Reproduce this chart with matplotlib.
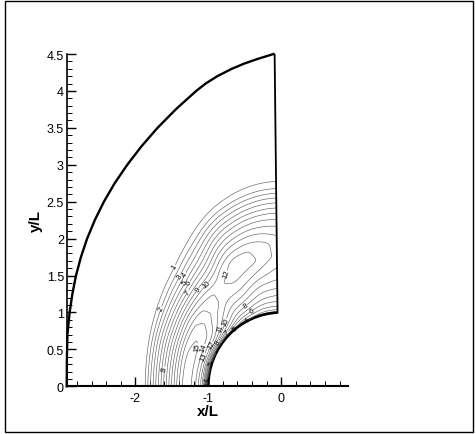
import numpy as np
import matplotlib
matplotlib.use("Agg")
import matplotlib.pyplot as plt
from matplotlib.patches import Arc, Rectangle
from matplotlib.ticker import MultipleLocator, FormatStrFormatter

plt.rcParams['font.family'] = ['Liberation Sans', 'DejaVu Sans']
plt.rcParams['axes.unicode_minus'] = False

# Outer boundary of the domain
outer_y = [0.0, 0.4, 0.7, 1.0, 1.25, 1.5, 1.75, 2.0, 2.25, 2.5, 2.75, 3.0,
           3.25, 3.5, 3.75, 4.0, 4.1, 4.2, 4.3, 4.37, 4.43, 4.5]
outer_x = [-2.94, -2.937, -2.93, -2.90, -2.8625, -2.8125, -2.745, -2.66, -2.555,
           -2.43, -2.2825, -2.11, -1.915, -1.695, -1.445, -1.165, -1.035, -0.875,
           -0.675, -0.507, -0.333, -0.105]

# Body: vertical wall + quarter circle of radius 1
wall_x = [-0.09, -0.05]
wall_y = [4.5, 1.0]
body_r = 1.0

# Contour region: outer edge reaches x=-1.9 on the axis and y=2.9 at the wall
extent_x = 1.9
extent_y = 2.9

# field values: rows = angle from the -x axis (deg), columns = normalised
# distance from the body (0) to the edge of the contour region (1)
phi_nodes = [0, 20, 35, 47, 57, 67, 77, 90]
s_nodes = [0, 0.03, 0.06, 0.1, 0.15, 0.2, 0.3, 0.4, 0.5, 0.6, 0.7, 0.8, 0.9, 1.0]
f_phi0 = [2.0, 6.5, 9.5, 11.5, 13.0, 14.2, 15.6, 15.0, 12.5, 10.0, 7.5, 5.0, 2.5, 0.0]
f_phi20 = [4.0, 7.5, 10.0, 12.0, 13.5, 14.5, 15.6, 14.8, 12.3, 9.7, 7.2, 4.7, 2.2, 0.0]
f_phi35 = [5.0, 8.0, 10.0, 11.8, 13.2, 14.0, 14.6, 14.0, 11.8, 9.0, 6.3, 3.8, 1.5, 0.0]
f_phi47 = [5.0, 7.0, 8.5, 9.8, 11.0, 11.8, 12.8, 12.6, 10.8, 8.2, 5.5, 3.2, 1.1, 0.0]
f_phi57 = [4.0, 5.5, 6.8, 8.0, 9.2, 10.2, 11.5, 11.7, 10.2, 7.9, 5.6, 3.4, 1.3, 0.0]
f_phi67 = [3.5, 5.0, 6.2, 7.5, 8.8, 10.0, 11.8, 12.6, 12.2, 10.0, 7.4, 4.7, 1.9, 0.0]
f_phi77 = [3.0, 4.5, 5.5, 6.7, 7.8, 8.8, 10.8, 12.3, 12.0, 10.0, 7.5, 4.6, 1.7, 0.0]
f_phi90 = [3.0, 4.5, 5.5, 6.5, 7.5, 8.5, 9.6, 10.4, 10.4, 9.2, 7.2, 4.5, 1.5, 0.0]
levels = list(range(1, 16))

f_table = np.array([f_phi0, f_phi20, f_phi35, f_phi47, f_phi57, f_phi67, f_phi77, f_phi90])

# mesh in (angle, distance) coordinates
phi = np.linspace(0, 90, 181)
s = np.linspace(0, 1, 121)
rows = np.array([np.interp(s, s_nodes, r) for r in f_table])
F = np.array([np.interp(phi, phi_nodes, rows[:, j]) for j in range(len(s))]).T


def smooth(a, n_phi=15, n_s=5):
    out = np.pad(a, ((n_phi // 2, n_phi // 2), (0, 0)), mode='edge')
    out = np.apply_along_axis(lambda v: np.convolve(v, np.ones(n_phi) / n_phi, mode='valid'), 0, out)
    out = np.pad(out, ((0, 0), (n_s // 2, n_s // 2)), mode='edge')
    out = np.apply_along_axis(lambda v: np.convolve(v, np.ones(n_s) / n_s, mode='valid'), 1, out)
    return out


F = smooth(F)
PHI, S = np.meshgrid(np.radians(phi), s, indexing='ij')
R_o = extent_x * extent_y / np.sqrt((extent_y * np.cos(PHI))**2 + (extent_x * np.sin(PHI))**2)
R = body_r + S * (R_o - body_r)
X = -R * np.cos(PHI)
Y = R * np.sin(PHI)

fig = plt.figure(figsize=(4.76, 4.35), dpi=100)
ax = fig.add_axes([66.7 / 476, 1 - 387.3 / 435, 281.6 / 476, 332.3 / 435])

cs = ax.contour(X, Y, F, levels=levels, colors='0.38', linewidths=0.45)
cs.set_clip_path(Rectangle((-3, -0.1), 2.94, 5, transform=ax.transData))
ax.clabel(cs, levels=levels, fmt='%d', fontsize=5.5, colors='k',
          inline=True, inline_spacing=1)

ax.plot(outer_x, outer_y, color='k', lw=1.7, clip_on=False)
ax.plot(wall_x, wall_y, color='k', lw=1.3)
ax.add_patch(Arc((0, 0), 2 * body_r, 2 * body_r, theta1=92.9, theta2=180,
                 color='k', lw=2.0))

ax.set_xlim(-2.94, 0.92)
ax.set_ylim(0, 4.5)
ax.spines['top'].set_visible(False)
ax.spines['right'].set_visible(False)
ax.spines['left'].set_linewidth(1.2)
ax.spines['bottom'].set_linewidth(1.5)

ax.set_xticks([-2, -1, 0])
ax.xaxis.set_minor_locator(MultipleLocator(0.2))
ax.yaxis.set_major_locator(MultipleLocator(0.5))
ax.yaxis.set_minor_locator(MultipleLocator(0.1))
ax.yaxis.set_major_formatter(FormatStrFormatter('%g'))
ax.tick_params(which='both', direction='in', labelsize=9, colors='k')
ax.tick_params(which='major', length=6.5, width=1.0)
ax.tick_params(which='minor', length=3.5, width=0.7)
ax.tick_params(axis='x', pad=4)
ax.tick_params(axis='y', pad=2)

ax.set_xlabel('x/L', fontsize=11, fontweight='bold', labelpad=0)
ax.set_ylabel('y/L', fontsize=11, fontweight='bold', labelpad=3)

fig.add_artist(Rectangle((5 / 476, 2 / 435), 468 / 476, 431 / 435,
                         transform=fig.transFigure, fill=False, ec='k', lw=1))

fig.savefig('out.png', dpi=100)
